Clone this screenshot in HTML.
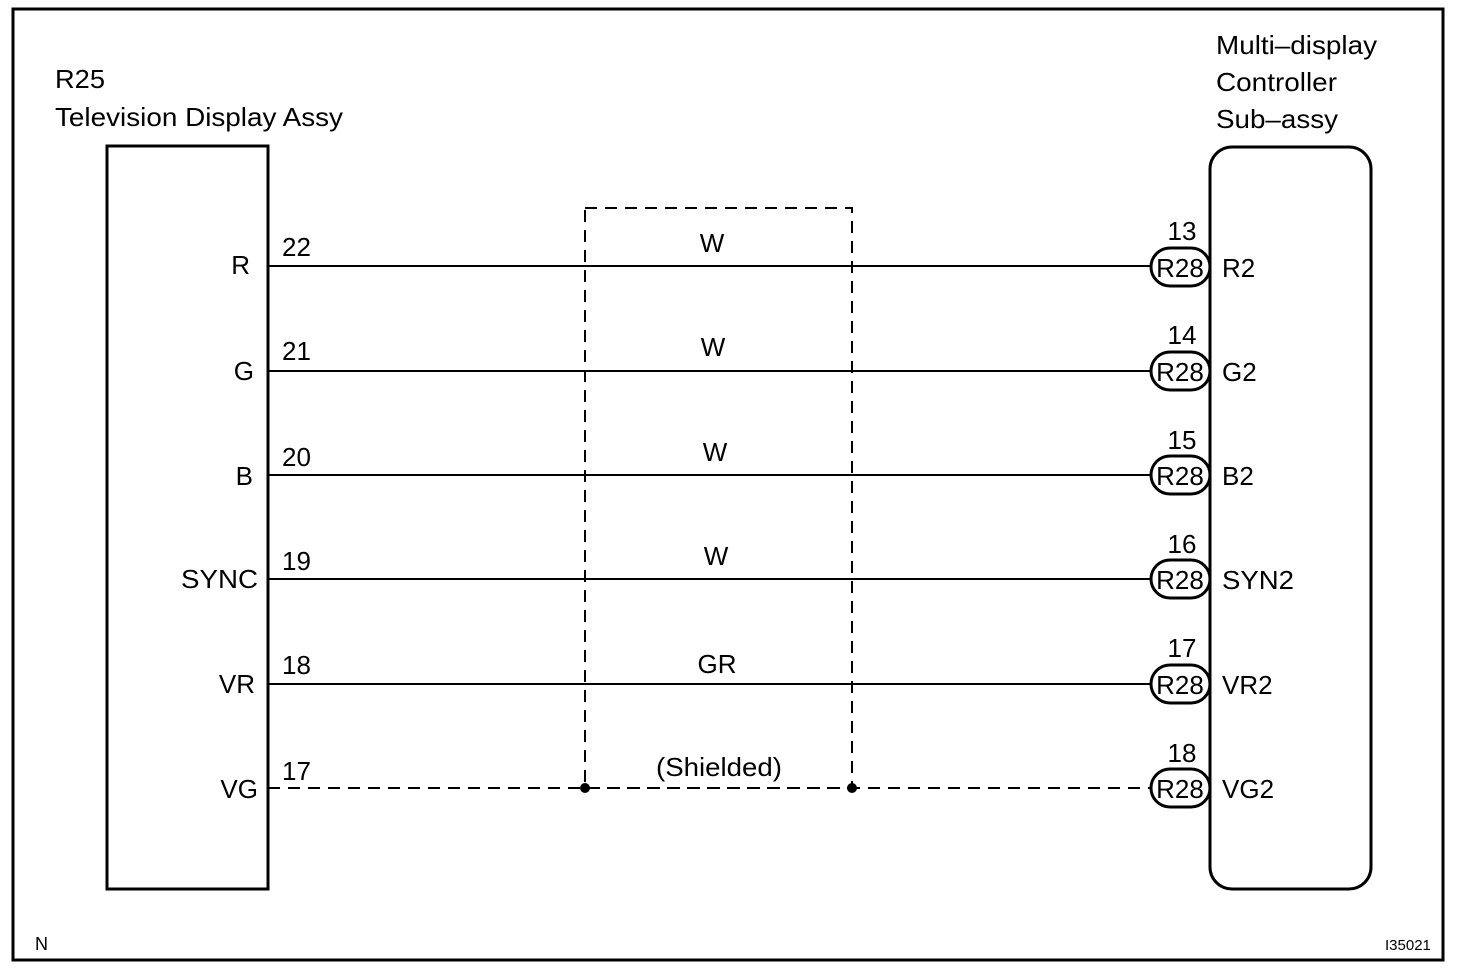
<!DOCTYPE html>
<html><head><meta charset="utf-8"><style>
html,body{margin:0;padding:0;background:#fff;}
svg{display:block;}
text{font-family:"Liberation Sans",Arial,sans-serif;font-size:26px;fill:#000;}
</style></head><body>
<svg width="1472" height="976" viewBox="0 0 1472 976">
<rect x="13" y="9" width="1430" height="951" fill="none" stroke="#000" stroke-width="3"/>
<text x="55" y="88" textLength="50" lengthAdjust="spacingAndGlyphs">R25</text>
<text x="55" y="126" textLength="288" lengthAdjust="spacingAndGlyphs">Television Display Assy</text>
<rect x="107" y="146" width="161" height="743" fill="none" stroke="#000" stroke-width="3"/>
<text x="1216" y="54" textLength="161" lengthAdjust="spacingAndGlyphs">Multi–display</text>
<text x="1216" y="91" textLength="121" lengthAdjust="spacingAndGlyphs">Controller</text>
<text x="1216" y="128" textLength="122" lengthAdjust="spacingAndGlyphs">Sub–assy</text>
<rect x="1210" y="147" width="161" height="742" rx="22" ry="22" fill="none" stroke="#000" stroke-width="3"/>
<rect x="585" y="208" width="267" height="580" fill="none" stroke="#000" stroke-width="2" stroke-dasharray="12,8"/>
<g stroke="#000" stroke-width="2">
<line x1="268" y1="266" x2="1150" y2="266"/>
<line x1="268" y1="371" x2="1150" y2="371"/>
<line x1="268" y1="475" x2="1150" y2="475"/>
<line x1="268" y1="579" x2="1150" y2="579"/>
<line x1="268" y1="684" x2="1150" y2="684"/>
<line x1="268" y1="788" x2="1150" y2="788" stroke-dasharray="12,8"/>
</g>
<circle cx="585" cy="788" r="5" fill="#000"/>
<circle cx="852" cy="788" r="5" fill="#000"/>
<g fill="#fff" stroke="#000" stroke-width="3">
<rect x="1151" y="248" width="59" height="38" rx="19"/>
<rect x="1151" y="352" width="59" height="38" rx="19"/>
<rect x="1151" y="456" width="59" height="38" rx="19"/>
<rect x="1151" y="560" width="59" height="38" rx="19"/>
<rect x="1151" y="665" width="59" height="38" rx="19"/>
<rect x="1151" y="769" width="59" height="38" rx="19"/>
</g>
<g text-anchor="middle">
<text x="1180" y="277">R28</text><text x="1180" y="381">R28</text><text x="1180" y="485">R28</text>
<text x="1180" y="589">R28</text><text x="1180" y="694">R28</text><text x="1180" y="798">R28</text>
<text x="1182" y="240">13</text><text x="1182" y="344">14</text><text x="1182" y="449">15</text>
<text x="1182" y="553">16</text><text x="1182" y="657">17</text><text x="1182" y="762">18</text>
<text x="712" y="252">W</text><text x="713" y="356">W</text><text x="715" y="461">W</text>
<text x="716" y="565">W</text><text x="717" y="673">GR</text><text x="719" y="776" textLength="126" lengthAdjust="spacingAndGlyphs">(Shielded)</text>
</g>
<g text-anchor="end">
<text x="250" y="274">R</text><text x="254" y="380">G</text><text x="253" y="485">B</text>
<text x="258" y="588" textLength="77" lengthAdjust="spacingAndGlyphs">SYNC</text><text x="255" y="693">VR</text><text x="258" y="798">VG</text>
</g>
<text x="282" y="256">22</text><text x="282" y="360">21</text><text x="282" y="466">20</text>
<text x="282" y="570">19</text><text x="282" y="674">18</text><text x="282" y="780">17</text>
<text x="1222" y="277">R2</text><text x="1222" y="381">G2</text><text x="1222" y="485">B2</text>
<text x="1222" y="589" textLength="72" lengthAdjust="spacingAndGlyphs">SYN2</text><text x="1222" y="694">VR2</text><text x="1222" y="798">VG2</text>
<text x="35" y="950" style="font-size:18px">N</text>
<text x="1385" y="950" style="font-size:15px">I35021</text>
</svg>
</body></html>
